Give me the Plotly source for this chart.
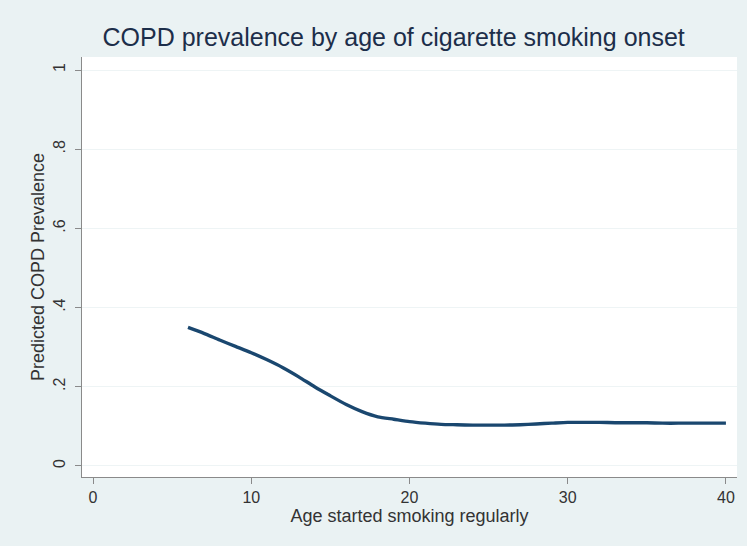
import plotly.graph_objects as go

ages = [6, 7, 8, 9, 10, 11, 12, 13, 14, 15, 16, 17, 18, 19, 20, 21, 22, 23,
        24, 25, 26, 27, 28, 29, 30, 31, 32, 33, 34, 35, 36, 37, 38, 39, 40]
prevalence = [0.350, 0.335, 0.318, 0.302, 0.286, 0.268, 0.248, 0.225, 0.200,
              0.177, 0.155, 0.137, 0.124, 0.118, 0.112, 0.108, 0.105, 0.104,
              0.103, 0.103, 0.103, 0.104, 0.106, 0.108, 0.110, 0.110, 0.110,
              0.109, 0.109, 0.109, 0.108, 0.108, 0.108, 0.108, 0.108]
x_ticks = [0, 10, 20, 30, 40]
y_ticks = [0, 0.2, 0.4, 0.6, 0.8, 1.0]
y_tick_labels = ["0", ".2", ".4", ".6", ".8", "1"]

BG = "#EAF2F3"
FONT = "Liberation Sans, Arial, sans-serif"

fig = go.Figure()
fig.add_trace(go.Scatter(
    x=ages, y=prevalence, mode="lines",
    line=dict(color="#1a476f", width=3.4, shape="spline", smoothing=0.6),
    showlegend=False,
))

fig.update_layout(
    width=747, height=546,
    paper_bgcolor=BG, plot_bgcolor="white",
    margin=dict(l=82, r=10, t=57, b=69),
    font=dict(family=FONT, size=16, color="#333333"),
    title=dict(text="COPD prevalence by age of cigarette smoking onset",
               x=0.527, xanchor="center", y=0.932, yanchor="middle",
               font=dict(family=FONT, size=25, color="#1c2e4a")),
)
fig.update_xaxes(
    range=[-0.7, 40.7], tickvals=x_ticks, ticks="outside", ticklen=6,
    tickcolor="#8a8a8a", showline=True, linecolor="#8a8a8a", linewidth=1,
    showgrid=False, zeroline=False, automargin=False,
    tickfont=dict(size=16, color="#333333"),
    title=dict(text="Age started smoking regularly", standoff=3,
               font=dict(size=18, color="#333333")),
)
fig.update_yaxes(
    range=[-0.028, 1.033], tickvals=y_ticks, ticktext=y_tick_labels,
    tickangle=-90, ticks="outside", ticklen=6, tickcolor="#8a8a8a",
    showline=True, linecolor="#8a8a8a", linewidth=1, automargin=False,
    showgrid=True, gridcolor="#EEF4F5", gridwidth=1, zeroline=False,
    ticklabelstandoff=4,
    tickfont=dict(size=16, color="#333333"),
    title=dict(text="Predicted COPD Prevalence", standoff=1,
               font=dict(size=18, color="#333333")),
)

fig.write_html(
    "out.html",
    config={"displayModeBar": False},
    post_script="document.body.style.margin='0';"
                "document.body.style.background='#EAF2F3';",
)
